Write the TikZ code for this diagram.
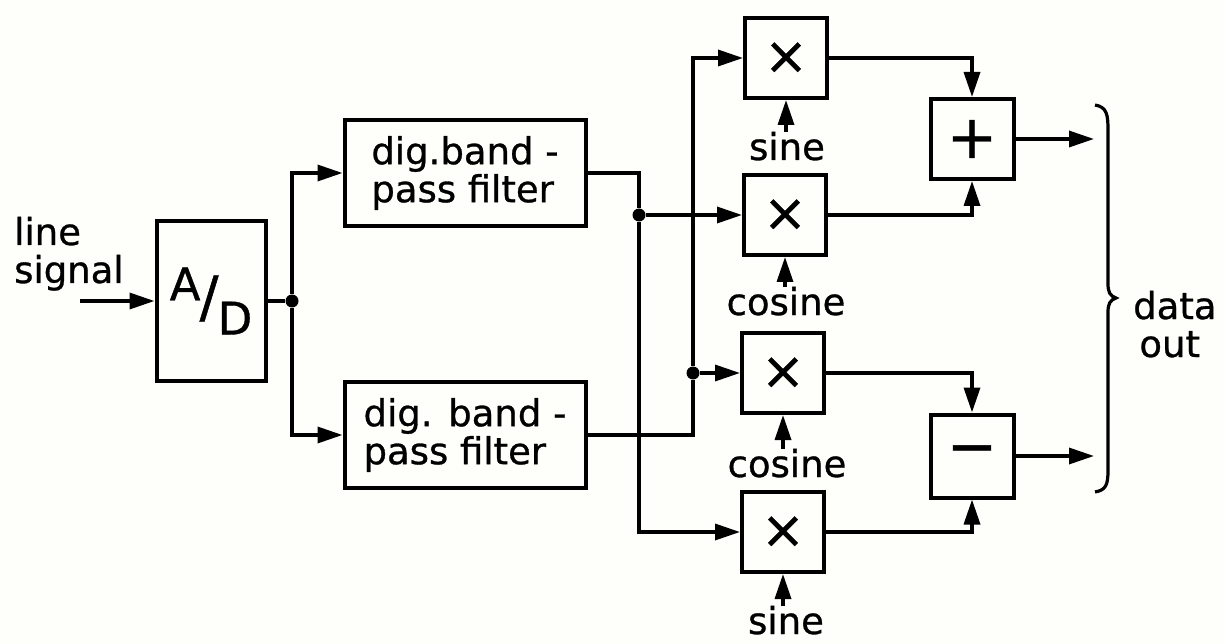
\documentclass[tikz,border=0pt]{standalone}
\usepackage{fontspec}
\setmainfont[FakeBold=0.8]{DejaVu Sans}
\usetikzlibrary{arrows.meta}
\begin{document}
\begin{tikzpicture}[x=1pt,y=-1pt,
 box/.style={draw, line width=4pt, inner sep=0pt},
 txt/.style={font=\fontsize{37}{38}\selectfont, inner sep=0pt},
 arr/.style={-{Triangle[length=25pt,width=16pt]}},
 wire/.style={line width=3.4pt},
 dot/.style={circle, fill, inner sep=0pt, minimum size=13pt},
 mul/.style={box, minimum width=82pt, minimum height=80pt, font=\fontsize{52}{52}\selectfont},
 op/.style={box, minimum width=83pt, minimum height=80pt, font=\fontsize{60}{60}\selectfont},
 filt/.style={box, txt, align=left, minimum width=241pt, minimum height=106pt}
]
\useasboundingbox[fill={rgb,255:red,254;green,254;blue,250}] (0,0) rectangle (1223,644);

% line signal and A/D
\node[txt, align=left, anchor=base west] (ls) at (14,283) {line\\signal};
\coordinate (in) at (80,301);
\node[box, minimum width=109pt, minimum height=159pt, font=\fontsize{45}{45}\selectfont] (ad) at (211,301)
  {\raisebox{0.36em}{A}\kern-0.02em\scalebox{1.25}{/}\kern-0.02em\raisebox{-0.40em}{D}};
\draw[wire,arr] (in) -- (ad.west);
\node[dot] (j1) at (292,301) {};
\draw[wire] (ad.east) -- (j1);

% filters
\node[filt] (f1) at (465,173) {dig.band -\\pass filter};
\node[filt] (f2) at (465,435) {dig. band -\\pass filter};
\draw[wire,arr] (j1) |- (f1.west);
\draw[wire,arr] (j1) |- (f2.west);

% multipliers
\node[mul] (m1) at (786,58) {×};
\node[mul] (m2) at (785,215) {×};
\node[mul] (m3) at (783,373) {×};
\node[mul] (m4) at (783,532) {×};

\node[dot] (j2) at (639,215) {};
\node[dot] (j3) at (693,373) {};
\draw[wire] (f1.east) -| (j2);
\draw[wire,arr] (j2) -- (m2.west);
\draw[wire,arr] (j2) |- (m4.west);
\draw[wire] (f2.east) -| (j3);
\draw[wire,arr] (j3) -- (m3.west);
\draw[wire,arr] (j3) |- (m1.west);

% carrier labels
\node[txt, anchor=base] (s1) at (787,160) {sine};
\node[txt, anchor=base] (c2) at (786,315) {cosine};
\node[txt, anchor=base] (c3) at (787,477) {cosine};
\node[txt, anchor=base] (s4) at (786,634) {sine};
\draw[wire,arr] (m1.south |- s1.north) -- (m1.south);
\draw[wire,arr] (m2.south |- c2.north) -- (m2.south);
\draw[wire,arr] (m3.south |- c3.north) -- (m3.south);
\draw[wire,arr] (m4.south |- s4.north) -- (m4.south);

% adder and subtractor
\node[op] (add) at (972,139) {+};
\node[op, minimum height=83pt] (sub) at (972,456) {−};
\draw[wire,arr] (m1.east) -| (add.north);
\draw[wire,arr] (m2.east) -| (add.south);
\draw[wire,arr] (m3.east) -| (sub.north);
\draw[wire,arr] (m4.east) -| (sub.south);

\coordinate (o1) at (1094,139);
\coordinate (o2) at (1094,456);
\draw[wire,arr] (add.east) -- (o1);
\draw[wire,arr] (sub.east) -- (o2);

% brace and output label
\draw[line width=3.2pt] (1095,105) .. controls (1107,107) and (1108,115) .. (1108,130)
  -- (1108,284) .. controls (1108,292) and (1110,296) .. (1116,298)
  .. controls (1110,300) and (1108,304) .. (1108,312)
  -- (1108,470) .. controls (1108,485) and (1106,490) .. (1095,492);
\node[txt, align=left, anchor=base west] (out) at (1133,357) {data\\\,out};
\end{tikzpicture}
\end{document}
